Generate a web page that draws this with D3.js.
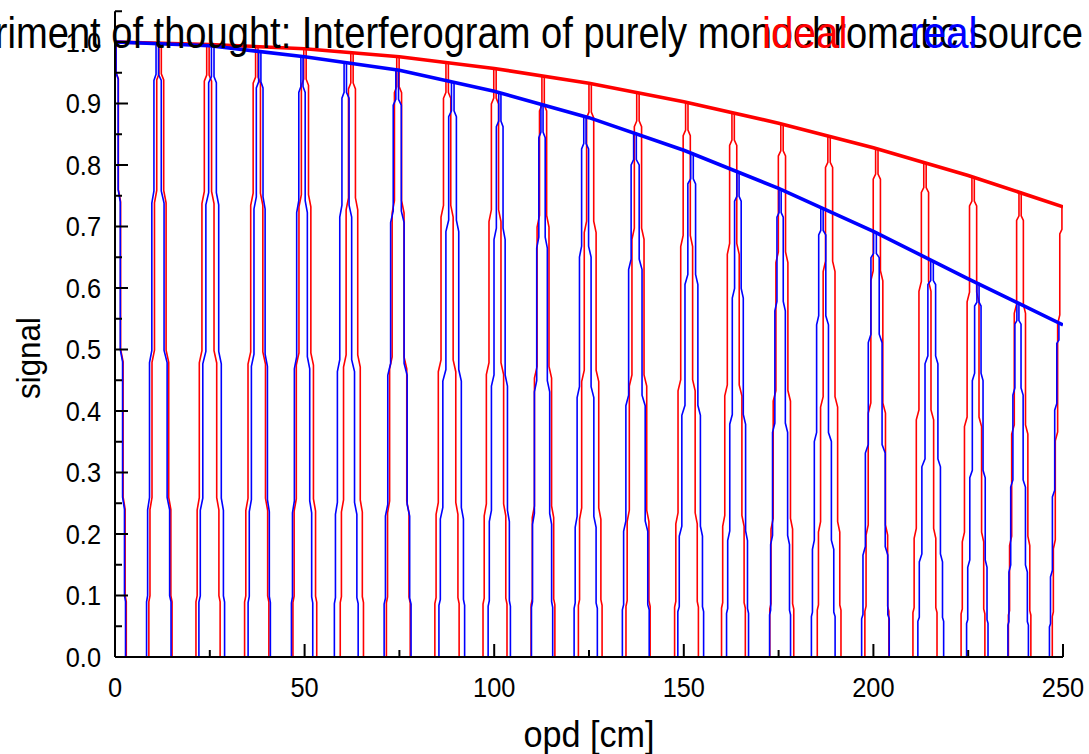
<!DOCTYPE html>
<html>
<head>
<meta charset="utf-8">
<script src="https://cdn.jsdelivr.net/npm/d3@7"></script>
<style>
  html, body { margin: 0; padding: 0; background: #fff; }
  svg { display: block; font-family: "Liberation Sans", Arial, sans-serif; }
</style>
</head>
<body>
<svg id="chart" width="1089" height="754"></svg>
<script>
// Interferogram of a monochromatic source: ideal vs real.
const opdTicks = [0, 50, 100, 150, 200, 250];
const opdMinorTicks = [0, 25, 50, 75, 100, 125, 150, 175, 200, 225, 250];
const signalTicks = [0, 0.1, 0.2, 0.3, 0.4, 0.5, 0.6, 0.7, 0.8, 0.9, 1.0];
const signalMinorTicks = d3.range(0, 1.051, 0.05);

// envelope (top of the fringes), sampled every 25 cm
const envelopeOpd   = [0, 25, 50, 75, 100, 125, 150, 175, 200, 225, 250];
const idealEnvelope = [1.0, 0.996, 0.989, 0.976, 0.957, 0.933, 0.903, 0.868, 0.828, 0.783, 0.732];
const realEnvelope  = [1.0, 0.994, 0.976, 0.954, 0.920, 0.877, 0.824, 0.762, 0.692, 0.615, 0.540];

// where each fringe touches the envelope (opd, cm)
const idealPeaks = [0, 11.9, 24.5, 37.4, 50.1, 62.5, 74.6, 87.6, 100.2, 112.9, 125.3,
                    137.9, 150.8, 163.0, 175.9, 188.3, 200.9, 213.6, 226.3, 238.7, 250];
const realPeaks  = [0, 11.1, 25.8, 38.2, 49.3, 60.7, 74.4, 89.1, 101.5, 112.6, 123.9,
                    137.1, 152.2, 164.3, 175.4, 186.4, 200.4, 215.5, 227.6, 238.1, 249.2];

// fringe leg shape: [fraction down from the peak, fraction of half-width out]
const legProfile = [[0, 0.1], [0.05, 0.1], [0.06, 0.3], [0.24, 0.3], [0.26, 0.5], [0.5, 0.5],
                    [0.52, 0.72], [0.74, 0.72], [0.76, 0.9], [0.9, 0.9], [0.91, 1], [1, 1]];

const svg = d3.select('#chart');
const x = d3.scaleLinear().domain([0, 250]).range([115, 1063]);
const y = d3.scaleLinear().domain([0, 1.05]).range([657, 11.25]);

svg.append('defs').append('clipPath').attr('id', 'plot')
  .append('rect').attr('x', x(0)).attr('y', 0).attr('width', x(250) - x(0)).attr('height', y(0));

const plot = svg.append('g').attr('clip-path', 'url(#plot)');
const line = d3.line().x(d => x(d[0])).y(d => y(d[1]));

function series(peaks, envelope, color) {
  const env = d3.scaleLinear().domain(envelopeOpd).range(envelope);
  const g = plot.append('g');
  peaks.forEach((p, i) => {
    const h = env(p);
    const wl = i > 0 ? (p - peaks[i - 1]) / 4 : null;
    const wr = i < peaks.length - 1 ? (peaks[i + 1] - p) / 4 : null;
    let pts = [];
    if (wl !== null) pts = legProfile.slice().reverse().map(([t, f]) => [p - f * wl, h * (1 - t)]);
    if (wr !== null) pts = pts.concat(legProfile.map(([t, f]) => [p + f * wr, h * (1 - t)]));
    g.append('path').attr('d', line(pts))
      .attr('fill', 'none').attr('stroke', color).attr('stroke-width', 1.6);
  });
  plot.append('path')
    .attr('d', line(envelopeOpd.map((o, i) => [o, envelope[i]])))
    .attr('fill', 'none').attr('stroke', color).attr('stroke-width', 3.6);
}
series(idealPeaks, idealEnvelope, '#ff0000');
series(realPeaks, realEnvelope, '#0000ff');

// axes (ticks point inward)
const ax = svg.append('g').attr('stroke', '#000');
ax.append('line').attr('x1', x(0)).attr('x2', x(250)).attr('y1', y(0)).attr('y2', y(0)).attr('stroke-width', 2);
ax.append('line').attr('x1', x(0)).attr('x2', x(0)).attr('y1', y(0)).attr('y2', y(1.05)).attr('stroke-width', 2);
opdMinorTicks.forEach(v => {
  const len = opdTicks.includes(v) ? 13 : 7;
  ax.append('line').attr('x1', x(v)).attr('x2', x(v)).attr('y1', y(0)).attr('y2', y(0) - len).attr('stroke-width', 2);
});
signalMinorTicks.forEach((v, i) => {
  const len = i % 2 === 0 ? 13 : 7;
  ax.append('line').attr('x1', x(0)).attr('x2', x(0) + len).attr('y1', y(v)).attr('y2', y(v)).attr('stroke-width', 2);
});

svg.append('g').selectAll('text').data(opdTicks).join('text')
  .attr('transform', d => `translate(${x(d)},697) scale(0.94,1)`).attr('text-anchor', 'middle')
  .attr('font-size', 27).text(d => d);
svg.append('g').selectAll('text').data(signalTicks).join('text')
  .attr('transform', d => `translate(101,${y(d) + 9.5}) scale(0.94,1)`).attr('text-anchor', 'end')
  .attr('font-size', 27).text(d => d.toFixed(1));

svg.append('text').attr('transform', 'translate(589,747) scale(0.95,1)').attr('text-anchor', 'middle')
  .attr('font-size', 36).text('opd [cm]');
svg.append('text').attr('transform', 'translate(40,358) rotate(-90) scale(0.95,1)').attr('text-anchor', 'middle')
  .attr('font-size', 33).text('signal');

// title, cut off at the left as in the original
svg.append('g').attr('transform', 'translate(1083,48) scale(0.866,1)')
  .append('text').attr('text-anchor', 'end').attr('font-size', 44)
  .text('Experiment of thought: Interferogram of purely monochromatic source');

// legend text
const legend = [['ideal', '#ff0000', 762], ['real', '#0000ff', 910]];
legend.forEach(([t, c, lx]) => {
  svg.append('g').attr('transform', `translate(${lx},48) scale(0.9,1)`)
    .append('text').attr('fill', c).attr('font-size', 45).text(t);
});
</script>
</body>
</html>
